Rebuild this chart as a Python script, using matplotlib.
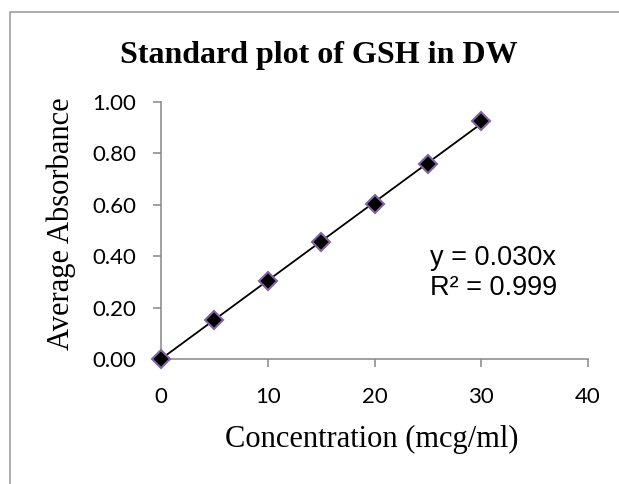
import matplotlib.pyplot as plt
import numpy as np
from matplotlib.patches import Rectangle

# concentration (mcg/ml) vs average absorbance
conc = [0, 5, 10, 15, 20, 25, 30]
absorbance = [0.0, 0.152, 0.303, 0.456, 0.603, 0.759, 0.926]

x_ticks = [0, 10, 20, 30, 40]
y_ticks = [0.0, 0.2, 0.4, 0.6, 0.8, 1.0]

W, H = 619, 484
fig = plt.figure(figsize=(W / 100, H / 100), dpi=100)
# outer chart frame
fig.patches.append(Rectangle((10 / W, -0.01), 1.0, 1 - 12 / H + 0.01,
                             transform=fig.transFigure, fill=False,
                             edgecolor="#a0a0a0", linewidth=1.2))

ax = fig.add_axes([161 / W, 1 - 359 / H, 427 / W, 257 / H])

x = np.array(conc)
y = np.array(absorbance)
slope = np.sum(x * y) / np.sum(x * x)
ax.plot([x.min(), x.max()], [0, slope * x.max()], color="black", linewidth=1.3, zorder=2)
ax.plot(conc, absorbance, linestyle="none", marker="D", markersize=9.5,
        markerfacecolor="black", markeredgecolor="#8064a2", markeredgewidth=1.5,
        zorder=3, clip_on=False)

ax.set_xlim(0, 40)
ax.set_ylim(0, 1.0)
ax.set_xticks(x_ticks)
ax.set_yticks(y_ticks)
ax.set_yticklabels([f"{v:.2f}" for v in y_ticks])
for s in ["top", "right"]:
    ax.spines[s].set_visible(False)
for s in ["left", "bottom"]:
    ax.spines[s].set_color("#868686")
    ax.spines[s].set_linewidth(1.1)
ax.tick_params(axis="both", colors="#868686", length=6, width=1.1,
               labelcolor="black", labelsize=16)
for lab in ax.get_xticklabels() + ax.get_yticklabels():
    lab.set_family("Lato")
ax.tick_params(axis="x", pad=14)
ax.tick_params(axis="y", pad=12)

fig.text(319 / W, 1 - 63 / H, "Standard plot of GSH in DW", ha="center", va="baseline",
         family="Liberation Serif", fontweight="bold", fontsize=23)
fig.text(372 / W, 1 - 447 / H, "Concentration (mcg/ml)", ha="center", va="baseline",
         family="Liberation Serif", fontsize=22)
fig.text(69 / W, 1 - 224 / H, "Average Absorbance", ha="center", va="baseline",
         rotation=90, rotation_mode="anchor", family="Liberation Serif", fontsize=22)

fig.text(430 / W, 1 - 265 / H, f"y = {0.030:.3f}x", ha="left", va="baseline",
         family="Liberation Sans", fontsize=19.5)
fig.text(430 / W, 1 - 295 / H, f"R² = {0.999:.3f}", ha="left", va="baseline",
         family="Liberation Sans", fontsize=19.5)

fig.savefig("out.png", dpi=100)
